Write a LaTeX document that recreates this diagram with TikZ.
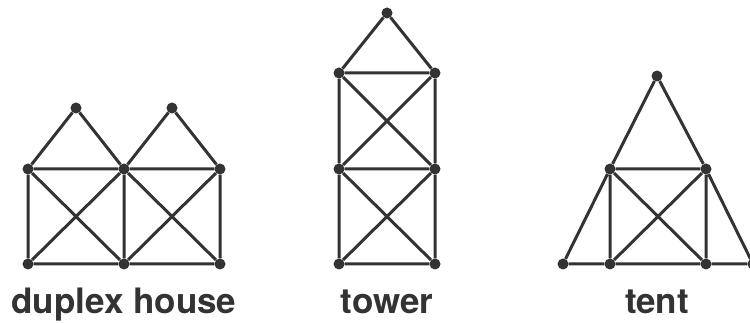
\documentclass[tikz,border=0pt]{standalone}
\usepackage{fontspec}
\setmainfont{TeX Gyre Heros}
\definecolor{ink}{HTML}{333333}
\begin{document}
\begin{tikzpicture}[x=1pt,y=-1pt,
  vtx/.style={circle,fill=ink,inner sep=0pt,minimum size=11pt},
  edge/.style={draw=ink,line width=3pt},
  lbl/.style={text=ink,font=\bfseries\fontsize{35}{40}\selectfont,anchor=base}]
\useasboundingbox (0,0) rectangle (750,323);
\clip (0,0) rectangle (750,323);
% duplex house
\node[vtx] (d1) at (28,264) {};
\node[vtx] (d2) at (124,264) {};
\node[vtx] (d3) at (220,264) {};
\node[vtx] (d4) at (28,169) {};
\node[vtx] (d5) at (124,169) {};
\node[vtx] (d6) at (220,169) {};
\node[vtx] (d7) at (76,108) {};
\node[vtx] (d8) at (172,108) {};
\draw[edge] (d1)--(d2)--(d3) (d4)--(d5)--(d6)
  (d1)--(d4) (d2)--(d5) (d3)--(d6)
  (d1)--(d5) (d4)--(d2) (d2)--(d6) (d5)--(d3)
  (d4)--(d7)--(d5)--(d8)--(d6);
% tower
\node[vtx] (t1) at (339,264) {};
\node[vtx] (t2) at (435,264) {};
\node[vtx] (t3) at (339,169) {};
\node[vtx] (t4) at (435,169) {};
\node[vtx] (t5) at (339,73) {};
\node[vtx] (t6) at (435,73) {};
\node[vtx] (t7) at (387,13) {};
\draw[edge] (t1)--(t2) (t3)--(t4) (t5)--(t6)
  (t1)--(t3)--(t5) (t2)--(t4)--(t6)
  (t1)--(t4) (t2)--(t3) (t3)--(t6) (t4)--(t5)
  (t5)--(t7)--(t6);
% tent
\node[vtx] (n1) at (563,264) {};
\node[vtx] (n2) at (610,264) {};
\node[vtx] (n3) at (706,264) {};
\node[vtx] (n4) at (753,264) {};
\node[vtx] (n5) at (610,169) {};
\node[vtx] (n6) at (706,169) {};
\node[vtx] (n7) at (657,76) {};
\draw[edge] (n1)--(n2)--(n3)--(n4)
  (n1)--(n5)--(n7)--(n6)--(n4)
  (n5)--(n6) (n2)--(n5) (n3)--(n6)
  (n2)--(n6) (n5)--(n3);
% labels
\node[lbl] (l1) at (124,313) {duplex house};
\node[lbl] (l2) at (387,313) {tower};
\node[lbl] (l3) at (657,313) {tent};
\end{tikzpicture}
\end{document}
